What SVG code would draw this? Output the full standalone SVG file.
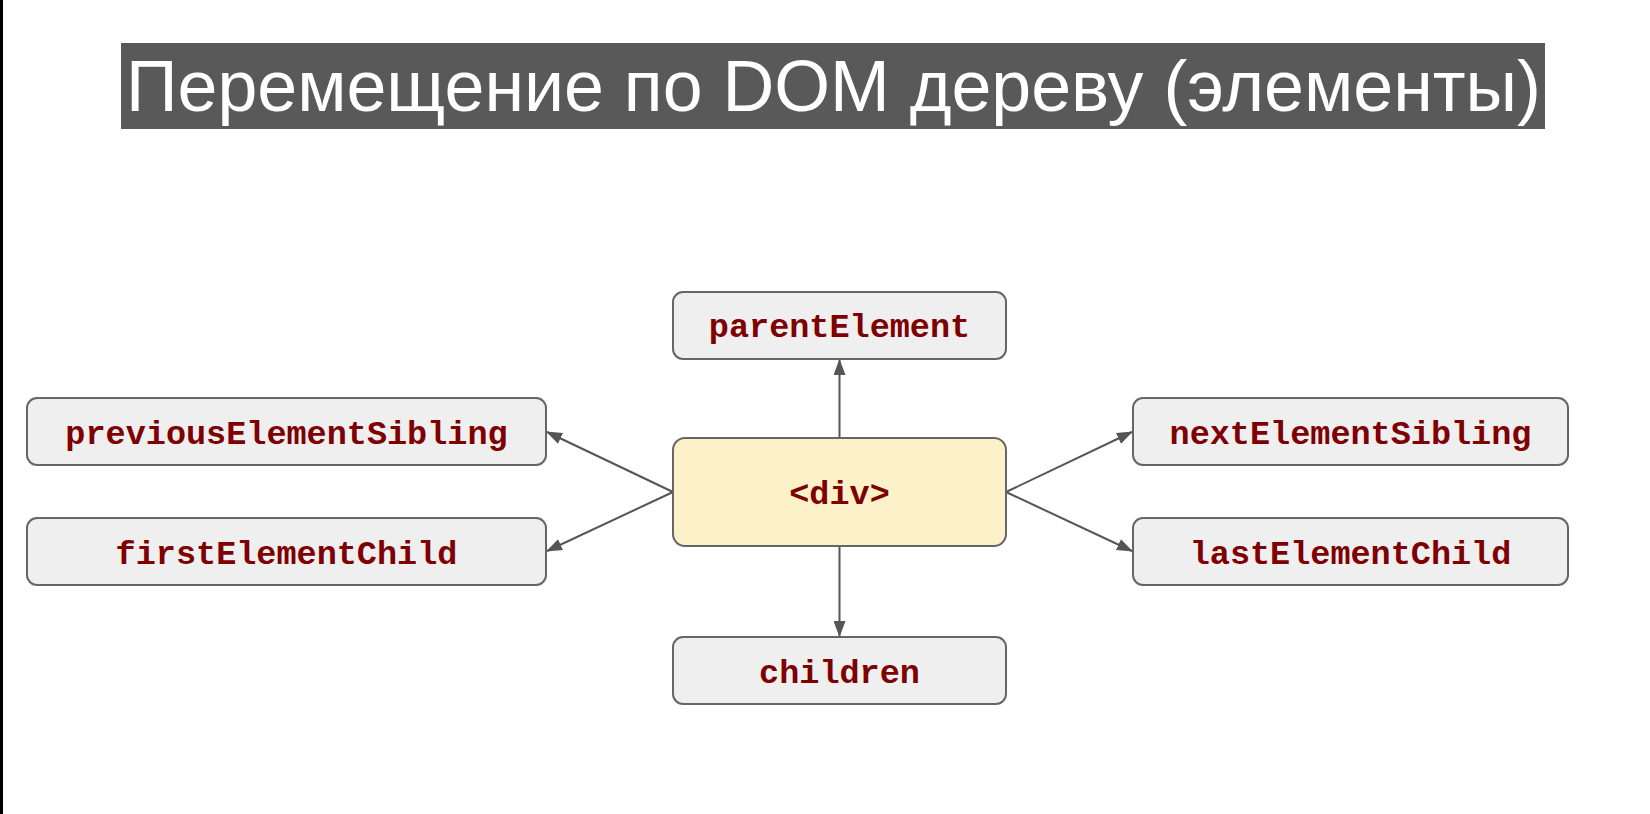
<svg xmlns="http://www.w3.org/2000/svg" width="1650" height="814" viewBox="0 0 1650 814">
<style>
.box{fill:#efefef;stroke:#666;stroke-width:2}
.main{fill:#fdf1c9;stroke:#666;stroke-width:2}
.lbl{font-family:"Liberation Mono","Courier New",monospace;font-weight:bold;font-size:33.5px;fill:#7f0000;text-anchor:middle}
.edge{stroke:#555;stroke-width:2;fill:none;marker-end:url(#arr)}
</style>
<defs>
<marker id="arr" viewBox="0 0 16 12" refX="15" refY="6" markerWidth="16" markerHeight="12" markerUnits="userSpaceOnUse" orient="auto">
<path d="M0,0 L16,6 L0,12 Z" fill="#555"/>
</marker>
</defs>
<rect width="1650" height="814" fill="#fff"/>
<rect x="0" y="0" width="3" height="814" fill="#000"/>
<g id="title">
<rect x="121" y="43" width="1424" height="86" fill="#595959"/>
<text x="126" y="111" font-family="Liberation Sans, Arial, sans-serif" font-size="73" fill="#fff" textLength="1415" lengthAdjust="spacingAndGlyphs">Перемещение по DOM дереву (элементы)</text>
</g>
<g id="connectors">
<line class="edge" x1="839.5" y1="438" x2="839.5" y2="360"/>
<line class="edge" x1="839.5" y1="546" x2="839.5" y2="636"/>
<line class="edge" x1="673" y1="492" x2="547" y2="432"/>
<line class="edge" x1="673" y1="492" x2="547" y2="551"/>
<line class="edge" x1="1006" y1="492" x2="1132" y2="432"/>
<line class="edge" x1="1006" y1="492" x2="1132" y2="551"/>
</g>
<g id="node-parent">
<rect class="box" x="673" y="292" width="333" height="67" rx="10"/>
<text class="lbl" x="839.5" y="337">parentElement</text>
</g>
<g id="node-div">
<rect class="main" x="673" y="438" width="333" height="108" rx="12"/>
<text class="lbl" x="839.5" y="504">&lt;div&gt;</text>
</g>
<g id="node-prev">
<rect class="box" x="27" y="398" width="519" height="67" rx="10"/>
<text class="lbl" x="286.5" y="443.5">previousElementSibling</text>
</g>
<g id="node-first">
<rect class="box" x="27" y="518" width="519" height="67" rx="10"/>
<text class="lbl" x="286.5" y="563.5">firstElementChild</text>
</g>
<g id="node-next">
<rect class="box" x="1133" y="398" width="435" height="67" rx="10"/>
<text class="lbl" x="1350.5" y="443.5">nextElementSibling</text>
</g>
<g id="node-last">
<rect class="box" x="1133" y="518" width="435" height="67" rx="10"/>
<text class="lbl" x="1350.5" y="563.5">lastElementChild</text>
</g>
<g id="node-children">
<rect class="box" x="673" y="637" width="333" height="67" rx="10"/>
<text class="lbl" x="839.5" y="682.5">children</text>
</g>
</svg>
